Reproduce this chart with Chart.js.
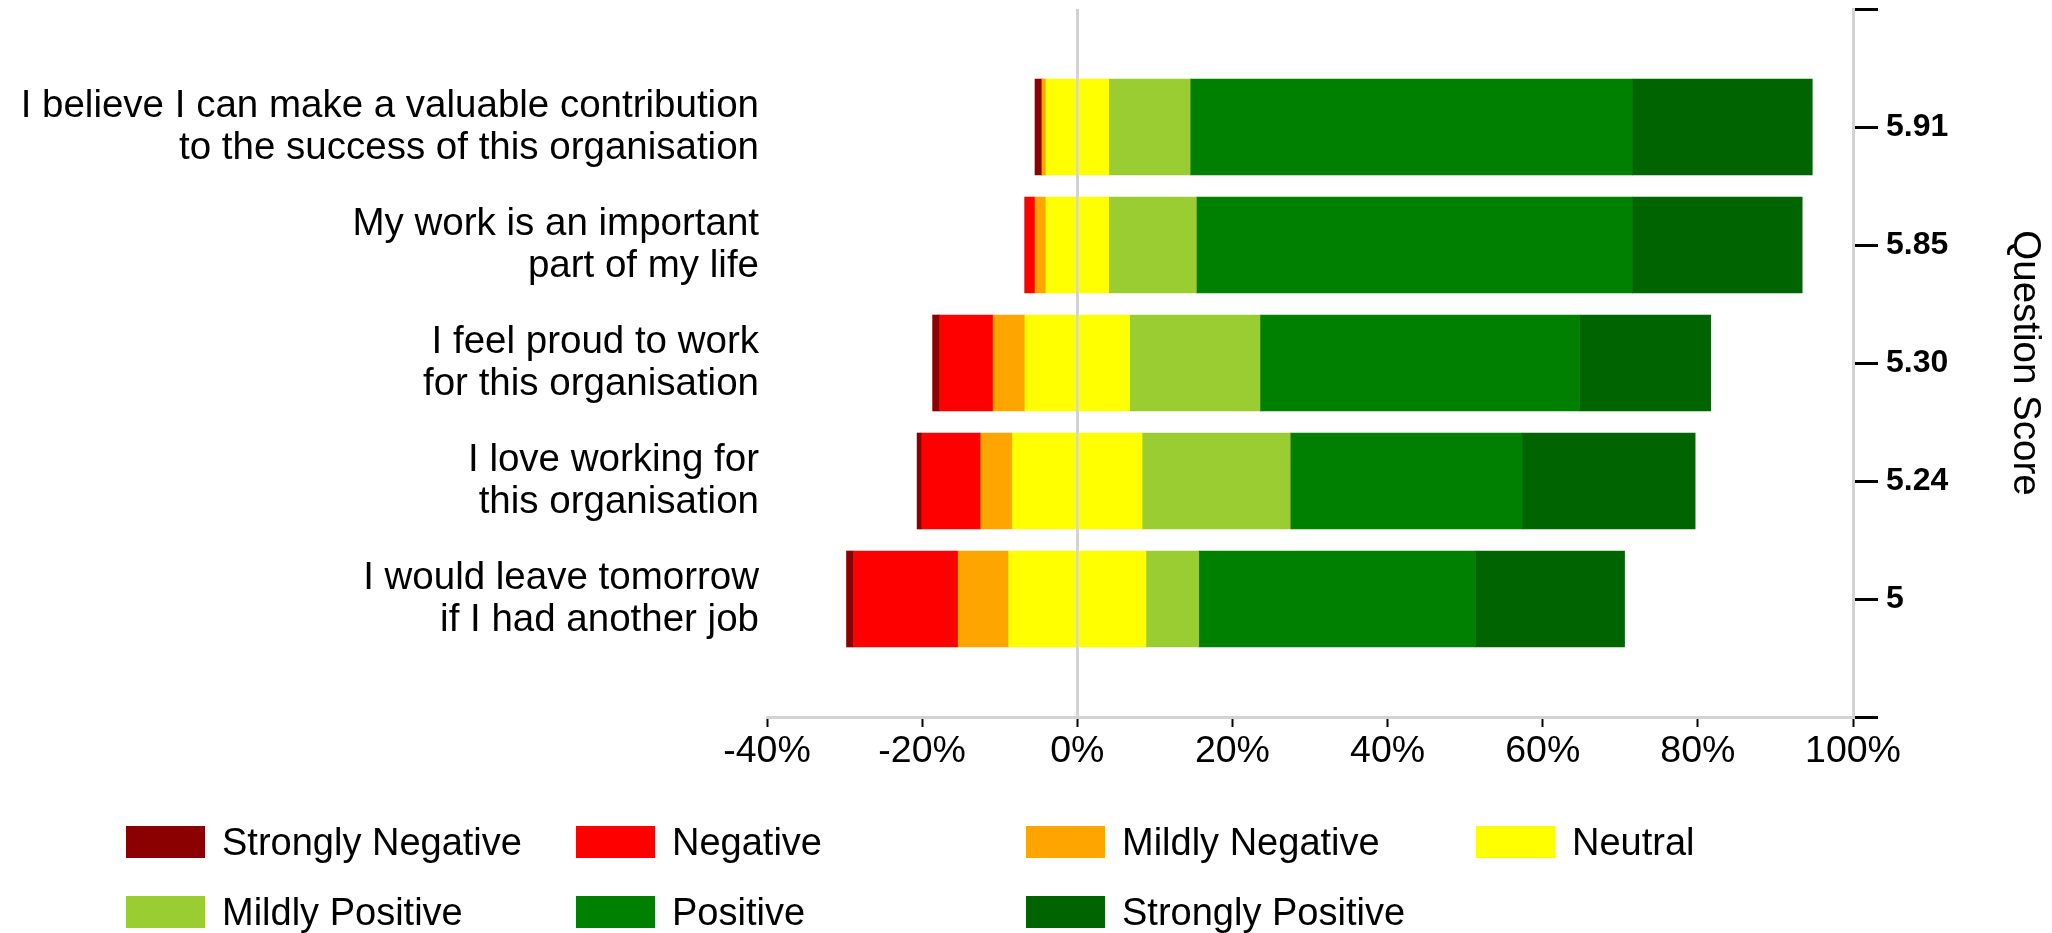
<!DOCTYPE html>
<html>
<head>
<meta charset="utf-8">
<script src="https://cdn.jsdelivr.net/npm/chart.js@4.4.1/dist/chart.umd.min.js"></script>
<style>
  html, body { margin: 0; padding: 0; background: #fff; }
  #wrap { position: relative; width: 2052px; height: 933px; }
  #legend {
    position: absolute; left: 126px; top: 826px;
    display: grid; grid-template-columns: repeat(4, 450px); row-gap: 38px;
    font-family: "Liberation Sans", Arial, sans-serif; font-size: 38px; color: #000;
  }
  .item { display: flex; align-items: center; height: 32px; white-space: nowrap; }
  .box { width: 79px; height: 32px; margin-right: 17px; flex: none; }
</style>
</head>
<body>
<div id="wrap">
  <canvas id="chart" width="2052" height="933"></canvas>
  <div id="legend"></div>
</div>
<script>
let questions = [
    ["I believe I can make a valuable contribution", "to the success of this organisation"],
    ["My work is an important", "part of my life"],
    ["I feel proud to work", "for this organisation"],
    ["I love working for", "this organisation"],
    ["I would leave tomorrow", "if I had another job"]
];
let scores = ["5.91", "5.85", "5.30", "5.24", "5"];

let levels = ["Strongly Negative", "Negative", "Mildly Negative", "Neutral",
              "Mildly Positive", "Positive", "Strongly Positive"];
let colors = ["#8b0000", "#ff0000", "#ffa500", "#ffff00", "#9acd32", "#008000", "#006400"];

// percent of answers per level, one value per question
let stronglyNegative = [0.9, 0, 0.9, 0.6, 0.9];
let negative = [0, 1.3, 6.9, 7.6, 13.5];
let mildlyNegative = [0.5, 1.4, 4.1, 4.1, 6.5];
let neutral = [8.1, 8.1, 13.5, 16.7, 17.7];
let mildlyPositive = [10.5, 11.3, 16.8, 19.1, 6.8];
let positive = [57.0, 56.2, 41.2, 29.9, 35.7];
let stronglyPositive = [23.2, 21.9, 16.9, 22.3, 19.2];

let xTicks = [-40, -20, 0, 20, 40, 60, 80, 100];

Chart.defaults.font.family = "'Liberation Sans', Arial, sans-serif";
Chart.defaults.color = "#000";

// neutral is split in half around 0
function series(label, values, color, sign) {
    return {
        label: label,
        data: values.map((v, i) => ({ x: sign * v, y: i + 1 })),
        backgroundColor: color,
        borderWidth: 0,
        barThickness: 96
    };
}

let halfNeutral = neutral.map(v => v / 2);

let datasets = [
    series(levels[3], halfNeutral, colors[3], -1),
    series(levels[2], mildlyNegative, colors[2], -1),
    series(levels[1], negative, colors[1], -1),
    series(levels[0], stronglyNegative, colors[0], -1),
    series(levels[3], halfNeutral, colors[3], 1),
    series(levels[4], mildlyPositive, colors[4], 1),
    series(levels[5], positive, colors[5], 1),
    series(levels[6], stronglyPositive, colors[6], 1)
];

let yMax = questions.length + 1;

new Chart(document.getElementById("chart"), {
    type: "bar",
    data: { datasets: datasets },
    options: {
        indexAxis: "y",
        responsive: false,
        animation: false,
        devicePixelRatio: 1,
        layout: { padding: { top: 9, bottom: 146, left: 0, right: 0 } },
        plugins: {
            legend: { display: false },
            tooltip: { enabled: false }
        },
        scales: {
            x: {
                type: "linear",
                min: xTicks[0],
                max: xTicks[xTicks.length - 1],
                stacked: true,
                afterBuildTicks: s => { s.ticks = xTicks.map(v => ({ value: v })); },
                afterFit: s => { s.height = 70; s.paddingLeft = 0; s.paddingRight = 0; },
                grid: {
                    color: c => (c.tick && c.tick.value === 0) ? "#d3d3d3" : "rgba(0,0,0,0)",
                    lineWidth: 3,
                    tickColor: "#000",
                    tickLength: 10,
                    tickWidth: 2
                },
                border: { color: "#d3d3d3", width: 3 },
                ticks: {
                    callback: v => v + "%",
                    font: { size: 37.5 },
                    padding: 2,
                    maxRotation: 0
                }
            },
            y: {
                type: "linear",
                position: "left",
                min: 0,
                max: yMax,
                reverse: true,
                stacked: true,
                offset: false,
                afterFit: s => { s.width = 767; s.paddingTop = 0; s.paddingBottom = 0; },
                grid: { display: false, drawTicks: false, offset: false },
                border: { display: false },
                ticks: {
                    stepSize: 1,
                    autoSkip: false,
                    callback: v => questions[v - 1] || "",
                    font: { size: 38.5, lineHeight: 1.09 },
                    padding: 8
                }
            },
            y2: {
                type: "linear",
                position: "right",
                min: 0,
                max: yMax,
                reverse: true,
                offset: false,
                afterFit: s => { s.width = 199; s.paddingTop = 0; s.paddingBottom = 0; },
                grid: {
                    drawOnChartArea: false,
                    offset: false,
                    tickColor: "#000",
                    tickLength: 25,
                    tickWidth: 3
                },
                border: { color: "#d3d3d3", width: 3 },
                ticks: {
                    stepSize: 1,
                    autoSkip: false,
                    callback: v => scores[v - 1] || "",
                    font: { size: 32, weight: "bold" },
                    padding: 8
                },
                title: {
                    display: true,
                    text: "Question Score",
                    font: { size: 38.5 }
                }
            }
        }
    }
});

let legend = document.getElementById("legend");
levels.forEach((name, i) => {
    let item = document.createElement("div");
    item.className = "item";
    item.innerHTML = '<span class="box" style="background:' + colors[i] + '"></span><span>' + name + '</span>';
    legend.appendChild(item);
});
</script>
</body>
</html>
